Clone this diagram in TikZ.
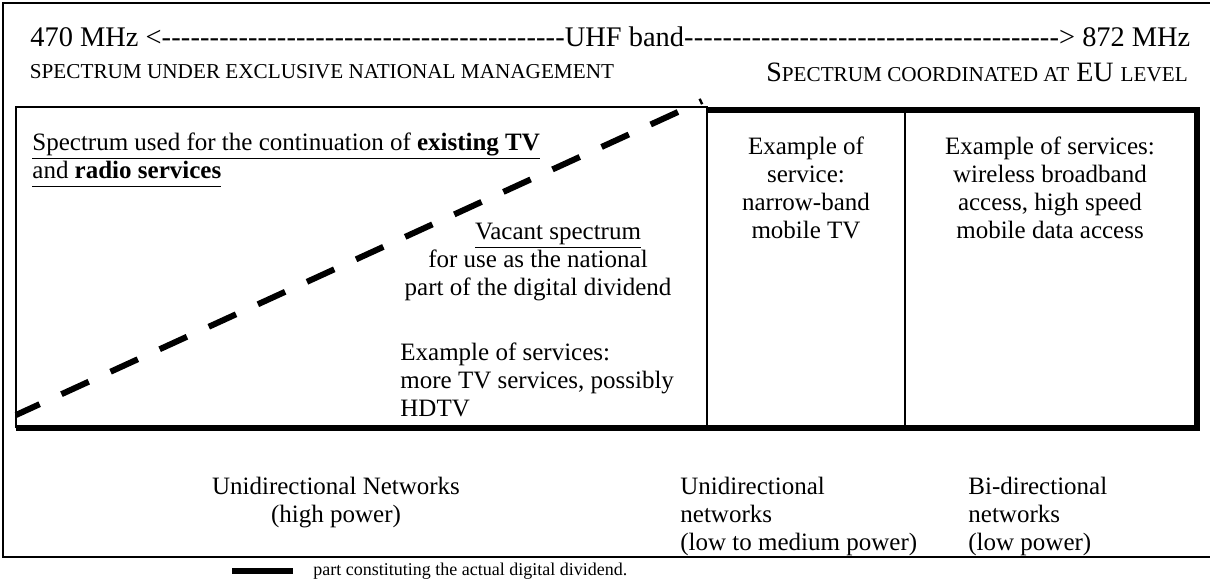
\documentclass[tikz,border=0pt]{standalone}
\usepackage{fontspec}
\setmainfont{Liberation Serif}
\newcommand{\fakesc}[1]{{\fontsize{10.6}{12}\selectfont #1}}
\newcommand{\dashrun}[1]{\xleaders\hbox{-}\hskip 0pt plus #1fill\relax}
\newcommand{\ul}[1]{\underline{#1\vphantom{p}}}
\begin{document}
\begin{tikzpicture}[x=0.5pt,y=-0.5pt,
    thin rule/.style = {line width=0.8pt},
    thick rule/.style = {line width=3pt},
    cut/.style = {line width=3pt,dash pattern=on 15pt off 12pt,dash phase=2pt},
    body/.style = {font=\fontsize{12.5}{14}\selectfont,align=center,inner sep=0pt}]
    \useasboundingbox (0,0) rectangle (1210,583);

    \coordinate (o1) at (3,3);
    \coordinate (o2) at (1210,3);
    \coordinate (o3) at (1210,557);
    \coordinate (o4) at (3,557);
    \draw[thin rule] (o2) -- (o1) -- (o4) -- (o3);

    \coordinate (a1) at (16,107);
    \coordinate (a2) at (707,107);
    \coordinate (b1) at (707,110);
    \coordinate (b2) at (1197,110);
    \coordinate (b3) at (1197,428);
    \coordinate (a4) at (16,428);
    \coordinate (a3) at (707,428);
    \coordinate (c1) at (905,110);
    \coordinate (c2) at (905,428);
    \draw[thin rule] (a4) -- (a1) -- (a2) -- (a3);
    \draw[thin rule] (c1) -- (c2);
    \draw[thick rule] (b1) -- (b2) -- (b3) -- (a4);

    \coordinate (cutlo) at (16,415);
    \coordinate (cuthi) at (702,101);
    \draw[cut] (cutlo) -- (cuthi);

    \node[anchor=west,inner sep=0pt,font=\fontsize{14.2}{17}\selectfont] (band) at (30,37)
        {\hbox to 580pt{470 MHz <\dashrun{1}UHF band\dashrun{0.93}> 872 MHz}};
    \node[body] (natl) at (322,72) {\fakesc{SPECTRUM UNDER EXCLUSIVE NATIONAL MANAGEMENT}};
    \node[body,font=\fontsize{14}{15}\selectfont] (eu) at (977,72)
        {S\fakesc{PECTRUM COORDINATED AT} EU \fakesc{LEVEL}};

    \node[body,align=left,anchor=west] (existing) at (32,160)
        {\ul{Spectrum used for the continuation of \textbf{existing TV}}\\
         \ul{and \textbf{radio services}}};
    \node[body] (vacant) at (538,262)
        {\hspace*{20pt}\ul{Vacant spectrum}\\for use as the national\\part of the digital dividend};
    \node[body,align=left,anchor=west] (moretv) at (400,380)
        {Example of services:\\more TV services, possibly\\HDTV};
    \node[body] (narrow) at (806,188) {Example of\\service:\\narrow-band\\mobile TV};
    \node[body] (wide) at (1050,188)
        {Example of services:\\wireless broadband\\access, high speed\\mobile data access};

    \node[body] (uni) at (336,503) {Unidirectional Networks\\(high power)};
    \node[body,align=left,anchor=west] (unimed) at (680,516)
        {Unidirectional\\networks\\(low to medium power)};
    \node[body,align=left,anchor=west] (bidir) at (968,516)
        {Bi-directional\\networks\\(low power)};

    \node[anchor=west,inner sep=0pt,font=\fontsize{9}{10}\selectfont] (key) at (313,571)
        {part constituting the actual digital dividend.};
    \coordinate (keyb) at ([xshift=-10pt]key.west);
    \draw[thick rule] (keyb) -- ++(-61,0);
\end{tikzpicture}
\end{document}
